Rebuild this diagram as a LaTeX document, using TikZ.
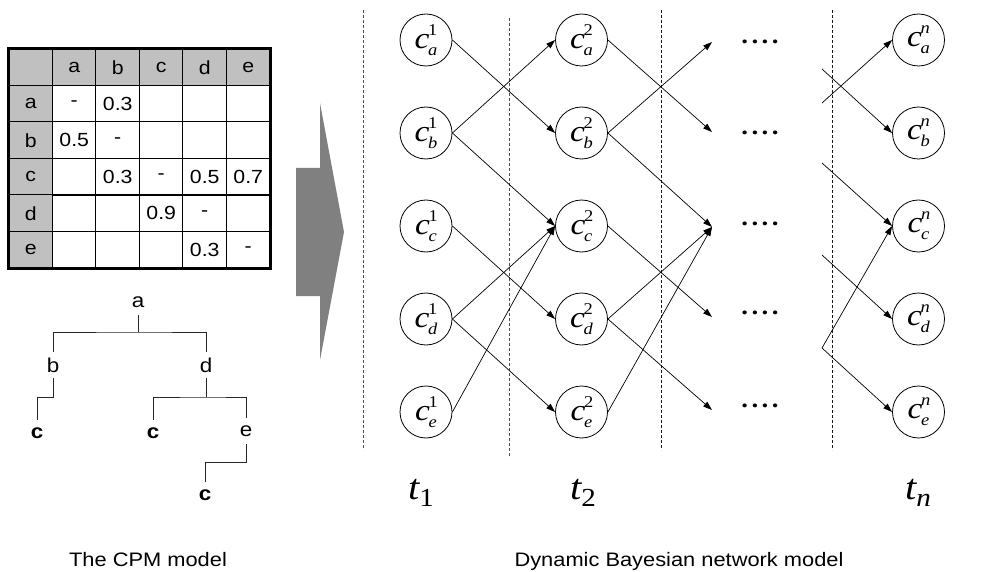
\documentclass[tikz,border=0pt]{standalone}
\usepackage{fontspec}
\setmainfont{Liberation Sans}[FakeStretch=1.12]
\newfontfamily\tms{Liberation Serif}[FakeStretch=1.12]
\usetikzlibrary{matrix,arrows.meta}
\definecolor{hdr}{HTML}{C0C0C0}
\definecolor{arrowgray}{HTML}{808080}
\newcommand\cvar[2]{{\tms\fontsize{30}{30}\selectfont\itshape c}\kern-1.5pt\makebox[0pt][l]{\raisebox{13pt}{\tms\fontsize{16.5}{16.5}\selectfont #1}}\raisebox{-7pt}{\tms\fontsize{16.5}{16.5}\selectfont\itshape #2}}
\newcommand\tlab[1]{{\tms\fontsize{36}{36}\selectfont\itshape t}\raisebox{-7pt}{\tms\fontsize{26}{26}\selectfont #1}}
\newcommand\fourdots{.\kern3.5pt.\kern3.5pt.\kern3.5pt.}
\begin{document}
\begin{tikzpicture}[x=1pt,y=-1pt,
  cnode/.style={circle, draw, line width=0.8pt, minimum size=52pt, inner sep=0pt},
  edge/.style={-{Triangle[length=9pt,width=6pt]}, line width=0.7pt},
  tline/.style={line width=0.9pt, black!85},
  tnode/.style={inner sep=0pt, minimum height=26pt, font=\fontsize{20}{20}\selectfont},
  tbold/.style={tnode, font=\fontsize{20}{20}\selectfont\bfseries},
  dotsnode/.style={inner sep=0pt, font=\tms\fontsize{24}{24}\selectfont\bfseries},
  sepline/.style={dash pattern=on 3pt off 2pt, line width=0.7pt},
  caption/.style={anchor=base, font=\fontsize{19.5}{19.5}\selectfont}]
\useasboundingbox (0,0) rectangle (988,572);

% CPM table
\matrix (tab) [matrix of nodes, nodes in empty cells, inner sep=0pt,
  column sep=-1pt, row sep=-1pt,
  nodes={draw, line width=1pt, minimum width=43.5pt, minimum height=36.5pt,
         inner sep=0pt, anchor=center, font=\fontsize{19}{19}\selectfont},
  row 1/.style={nodes={fill=hdr}}, column 1/.style={nodes={fill=hdr}}]
  at (139.5,158.5) {
   & a & b & c & d & e \\
 a & - & 0.3 & & & \\
 b & 0.5 & - & & & \\
 c & & 0.3 & - & 0.5 & 0.7 \\
 d & & & 0.9 & - & \\
 e & & & & 0.3 & - \\
};
\draw[line width=2.2pt] (tab-1-1.north west) rectangle (tab-6-6.south east);

% tree
\node[tnode] (ta) at (138,302) {a};
\node[tnode] (tb) at (53,365) {b};
\node[tnode] (td) at (206,365) {d};
\node[tbold] (tc1) at (37,433) {c};
\node[tbold] (tc2) at (153,433) {c};
\node[tnode] (te) at (246,431) {e};
\node[tbold] (tc3) at (205,495) {c};
\coordinate (ja) at (138,332);
\coordinate (jb) at (53,397);
\coordinate (jd) at (206,397);
\coordinate (je) at (246,462);
\draw[tline] (ta.south) -- (ja);
\draw[tline] (tb.north) |- (ja) -| (td.north);
\draw[tline] (tb.south) -- (jb) -| (tc1.north);
\draw[tline] (td.south) -- (jd);
\draw[tline] (tc2.north) |- (jd) -| (te.north);
\draw[tline] (te.south) -- (je) -| (tc3.north);

% big arrow
\fill[arrowgray] (296,168) -- (320,168) -- (320,103) -- (344,232) -- (320,360) -- (320,296) -- (296,296) -- cycle;

% separators
\draw[sepline, black!70] (363,10) -- (363,450);
\draw[sepline, black!70] (509,18) -- (509,458);
\draw[sepline, black!90] (661,10) -- (661,450);
\draw[sepline, black!90] (832,10) -- (832,450);

% nodes
\foreach \r/\y in {a/40,b/133,c/226,d/319,e/412}{
  \node[cnode] (c1\r) at (426,\y) {\cvar{1}{\r}};
  \node[cnode] (c2\r) at (581.5,\y) {\cvar{2}{\r}};
  \node[cnode] (cn\r) at (918.5,\y) {\cvar{\itshape n}{\r}};
}
\node[dotsnode] (dotsa) at (760,42) {\fourdots};
\node[dotsnode] (dotsb) at (760,133) {\fourdots};
\node[dotsnode] (dotsc) at (760,224) {\fourdots};
\node[dotsnode] (dotsd) at (760,313) {\fourdots};
\node[dotsnode] (dotse) at (760,406) {\fourdots};

\coordinate (pa) at (712,42);
\coordinate (pb) at (712,132);
\coordinate (pc) at (712,227);
\coordinate (pd) at (712,317);
\coordinate (pe) at (712,410);

\coordinate (sa) at (822,69);
\coordinate (sb1) at (822,103);
\coordinate (sb2) at (822,163);
\coordinate (sc) at (822,255);
\coordinate (sd) at (822,348);

% layer 1 -> 2
\draw[edge] (c1a.east) -- (c2b.west);
\draw[edge] (c1b.east) -- (c2a.west);
\draw[edge] (c1b.east) -- (c2c.west);
\draw[edge] (c1c.east) -- (c2d.west);
\draw[edge] (c1d.east) -- (c2c.west);
\draw[edge] (c1d.east) -- (c2e.west);
\draw[edge] (c1e.east) -- (c2c.west);
% layer 2 -> ...
\draw[edge] (c2a.east) -- (pb);
\draw[edge] (c2b.east) -- (pa);
\draw[edge] (c2b.east) -- (pc);
\draw[edge] (c2c.east) -- (pd);
\draw[edge] (c2d.east) -- (pc);
\draw[edge] (c2d.east) -- (pe);
\draw[edge] (c2e.east) -- (pc);
% ... -> layer n
\draw[edge] (sa) -- (cnb.west);
\draw[edge] (sb1) -- (cna.west);
\draw[edge] (sb2) -- (cnc.west);
\draw[edge] (sc) -- (cnd.west);
\draw[edge] (sd) -- (cnc.west);
\draw[edge] (sd) -- (cne.west);

% time labels
\node[inner sep=0pt] (t1) at (421,493) {\tlab{1}};
\node[inner sep=0pt] (t2) at (583,493) {\tlab{2}};
\node[inner sep=0pt] (tn) at (918,493) {\tlab{\itshape n}};

% captions
\node[caption] (cap1) at (148,566) {The CPM model};
\node[caption] (cap2) at (679,566) {Dynamic Bayesian network model};
\end{tikzpicture}
\end{document}
